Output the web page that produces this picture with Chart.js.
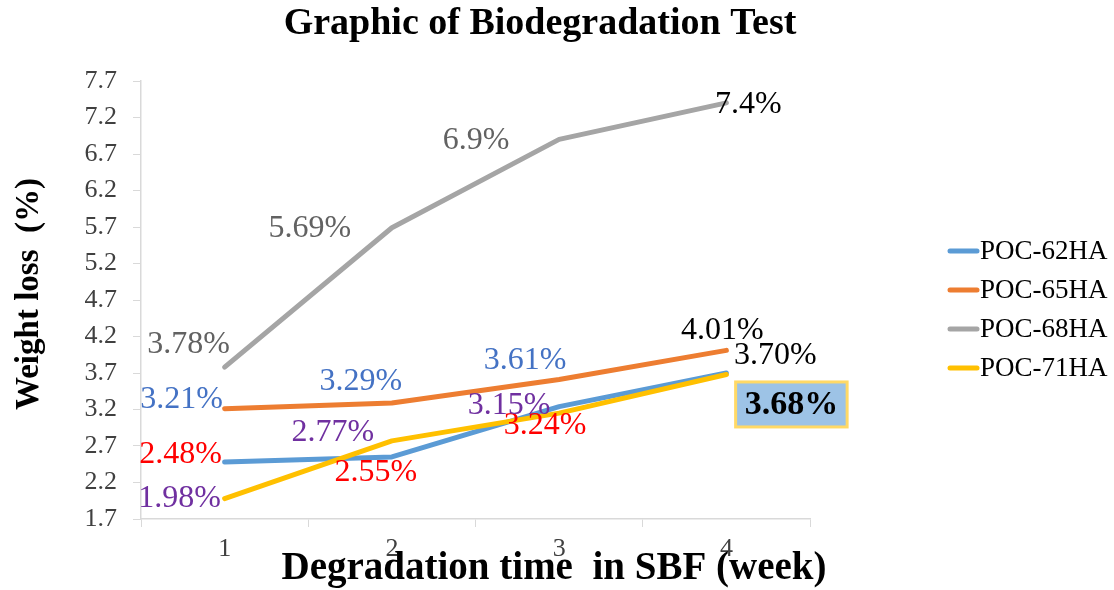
<!DOCTYPE html>
<html>
<head>
<meta charset="utf-8">
<script src="https://cdn.jsdelivr.net/npm/chart.js@4.4.1/dist/chart.umd.min.js"></script>
<style>
  html, body { margin: 0; padding: 0; background: #fff; }
  #wrap { width: 1114px; height: 590px; }
</style>
</head>
<body>
<div id="wrap"><canvas id="chart"></canvas></div>
<script>
// data
const weeks = ['1', '2', '3', '4'];
const seriesNames = ['POC-62HA', 'POC-65HA', 'POC-68HA', 'POC-71HA'];
const poc62 = [2.48, 2.55, 3.24, 3.70];
const poc65 = [3.21, 3.29, 3.61, 4.01];
const poc68 = [3.78, 5.69, 6.9, 7.4];
const poc71 = [1.98, 2.77, 3.15, 3.68];
const poc62Labels = ['2.48%', '2.55%', '3.24%', '3.70%'];
const poc65Labels = ['3.21%', '3.29%', '3.61%', '4.01%'];
const poc68Labels = ['3.78%', '5.69%', '6.9%', '7.4%'];
const poc71Labels = ['1.98%', '2.77%', '3.15%', '3.68%'];
const yMin = 1.7, yMax = 7.7, yStep = 0.5;

const titleText = 'Graphic of Biodegradation Test';
const xTitle = 'Degradation time  in SBF (week)';
const yTitle = 'Weight loss  (%)';

// styling
const SERIF = '"Liberation Serif", "Times New Roman", serif';
const lineColors = ['#5B9BD5', '#ED7D31', '#A5A5A5', '#FFC000'];
const axisGray = '#D9D9D9';
const labelColors = [
  ['#FF0000', '#FF0000', '#FF0000', '#000000'],
  ['#4472C4', '#4472C4', '#4472C4', '#000000'],
  ['#626262', '#626262', '#626262', '#000000'],
  ['#7030A0', '#7030A0', '#7030A0', '#000000']
];
// label centre relative to its point, px
const labelOffsets = [
  [[-44, -7], [-16, 16], [-14, 19], [49, -17]],
  [[-43, -9], [-31, -21], [-34, -19], [-4, -20]],
  [[-36, -23], [-82, 1], [-83, 1], [22, 2]],
  [[-45, 0], [-59, -8], [-50, -8], [65, 30]]
];
const boxedLabel = { series: 3, point: 3 };
const legendRows = [251, 290, 329, 368];

const allValues = [poc62, poc65, poc68, poc71];
const allLabels = [poc62Labels, poc65Labels, poc68Labels, poc71Labels];

const textLayer = {
  id: 'textLayer',
  afterDatasetsDraw(chart) {
    const ctx = chart.ctx;
    ctx.save();
    ctx.textAlign = 'center';
    ctx.textBaseline = 'middle';
    chart.data.datasets.forEach((ds, i) => {
      const meta = chart.getDatasetMeta(i);
      meta.data.forEach((pt, j) => {
        const x = pt.x + labelOffsets[i][j][0];
        const y = pt.y + labelOffsets[i][j][1];
        const text = allLabels[i][j];
        if (boxedLabel.series === i && boxedLabel.point === j) {
          ctx.font = 'bold 34px ' + SERIF;
          const w = ctx.measureText(text).width + 18;
          const h = 45;
          ctx.fillStyle = '#9DC3E6';
          ctx.fillRect(x - w / 2, y - h / 2, w, h);
          ctx.strokeStyle = '#FFD966';
          ctx.lineWidth = 3;
          ctx.strokeRect(x - w / 2, y - h / 2, w, h);
          ctx.fillStyle = '#000';
          ctx.fillText(text, x, y + 1);
        } else {
          ctx.font = '32px ' + SERIF;
          ctx.fillStyle = labelColors[i][j];
          ctx.fillText(text, x, y);
        }
      });
    });
    ctx.restore();
  },
  afterDraw(chart) {
    const ctx = chart.ctx;
    ctx.save();
    ctx.textBaseline = 'middle';
    ctx.textAlign = 'center';
    ctx.fillStyle = '#000';
    ctx.font = 'bold 38px ' + SERIF;
    ctx.fillText(titleText, 540, 24);
    ctx.font = 'bold 39px ' + SERIF;
    ctx.fillText(xTitle, 554, 569);
    ctx.save();
    ctx.translate(29, 294);
    ctx.rotate(-Math.PI / 2);
    ctx.font = 'bold 33px ' + SERIF;
    ctx.fillText(yTitle, 0, 0);
    ctx.restore();

    // legend
    ctx.textAlign = 'left';
    ctx.font = '27px ' + SERIF;
    chart.data.datasets.forEach((ds, i) => {
      const y = legendRows[i];
      ctx.strokeStyle = ds.borderColor;
      ctx.lineWidth = 5;
      ctx.lineCap = 'round';
      ctx.beginPath();
      ctx.moveTo(950, y);
      ctx.lineTo(977, y);
      ctx.stroke();
      ctx.fillStyle = '#000';
      ctx.fillText(ds.label, 980, y + 1);
    });
    ctx.restore();
  }
};

new Chart(document.getElementById('chart'), {
  type: 'line',
  data: {
    labels: weeks,
    datasets: allValues.map((vals, i) => ({
      label: seriesNames[i],
      data: vals,
      borderColor: lineColors[i],
      backgroundColor: lineColors[i],
      borderWidth: 5,
      borderCapStyle: 'round',
      borderJoinStyle: 'round',
      pointRadius: 0,
      tension: 0,
      order: allValues.length - i
    }))
  },
  options: {
    responsive: true,
    maintainAspectRatio: false,
    animation: false,
    layout: { padding: { top: 81, right: 304, bottom: 0, left: 0 } },
    plugins: {
      legend: { display: false },
      title: { display: false },
      tooltip: { enabled: false }
    },
    scales: {
      x: {
        type: 'category',
        offset: true,
        afterFit: s => { s.height = 71; },
        grid: { drawOnChartArea: false, drawTicks: true, tickLength: 8, color: axisGray, offset: true },
        border: { color: axisGray, width: 1.5 },
        ticks: { font: { family: SERIF, size: 26 }, color: '#404040', padding: 7 }
      },
      y: {
        min: yMin,
        max: yMax,
        afterFit: s => { s.width = 141; },
        grid: { drawOnChartArea: false, drawTicks: true, tickLength: 8, color: axisGray },
        border: { color: axisGray, width: 1.5 },
        ticks: {
          stepSize: yStep,
          padding: 16,
          color: '#404040',
          font: { family: SERIF, size: 26 },
          callback: v => Number(v).toFixed(1)
        }
      }
    }
  },
  plugins: [textLayer]
});
</script>
</body>
</html>
